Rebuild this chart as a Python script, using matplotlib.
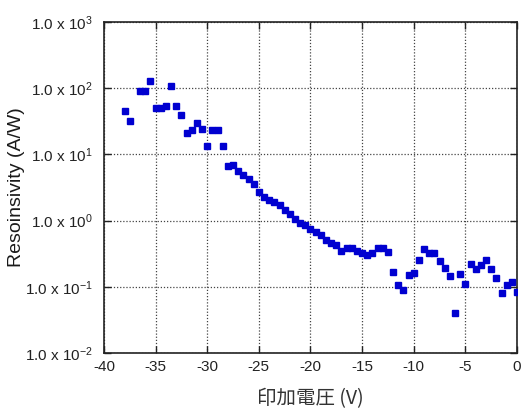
import numpy as np
import matplotlib
matplotlib.use("Agg")
import matplotlib.pyplot as plt

plt.rcParams['font.family'] = ['Liberation Sans', 'DejaVu Sans']
plt.rcParams['mathtext.fontset'] = 'custom'
plt.rcParams['mathtext.rm'] = 'Liberation Sans'
plt.rcParams['mathtext.it'] = 'Liberation Sans'

# applied voltage (V) and responsivity (A/W)
voltage = [-38.0, -37.5, -36.5, -36.0, -35.5, -35.0, -34.5, -34.0, -33.5, -33.0,
           -32.5, -32.0, -31.5, -31.0, -30.5, -30.0, -29.5, -29.0, -28.5, -28.0,
           -27.5, -27.0, -26.5, -26.0, -25.5, -25.0, -24.5, -24.0, -23.5, -23.0,
           -22.5, -22.0, -21.5, -21.0, -20.5, -20.0, -19.5, -19.0, -18.5, -18.0,
           -17.5, -17.0, -16.5, -16.0, -15.5, -15.0, -14.5, -14.0, -13.5, -13.0,
           -12.5, -12.0, -11.5, -11.0, -10.5, -10.0, -9.5, -9.0, -8.5, -8.0,
           -7.5, -7.0, -6.5, -6.0, -5.5, -5.0, -4.5, -4.0, -3.5, -3.0,
           -2.5, -2.0, -1.5, -1.0, -0.5, 0.0]
responsivity = [45.7, 31.9, 89.8, 89.8, 128.5, 49.7, 49.7, 53.8, 107.0, 53.8,
                39.4, 21.3, 23.4, 29.5, 24.2, 13.3, 23.1, 23.1, 13.3, 6.68,
                6.99, 5.71, 4.89, 4.30, 3.53, 2.69, 2.27, 2.03, 1.93, 1.73,
                1.47, 1.25, 1.06, 0.914, 0.873, 0.746, 0.665, 0.616, 0.518, 0.463,
                0.425, 0.351, 0.392, 0.379, 0.347, 0.324, 0.302, 0.327, 0.382, 0.382,
                0.336, 0.170, 0.106, 0.0901, 0.151, 0.163, 0.251, 0.377, 0.321, 0.321,
                0.244, 0.190, 0.146, 0.0402, 0.157, 0.110, 0.219, 0.184, 0.216, 0.254,
                0.184, 0.134, 0.0798, 0.105, 0.118, 0.0834]

xticks = [-40, -35, -30, -25, -20, -15, -10, -5, 0]
yticks = [1e-2, 1e-1, 1e0, 1e1, 1e2, 1e3]
ytick_labels = [r'1.0 x 10$^{-2}$', r'1.0 x 10$^{-1}$', r'1.0 x 10$^{0}$',
                r'1.0 x 10$^{1}$', r'1.0 x 10$^{2}$', r'1.0 x 10$^{3}$']

fig = plt.figure(figsize=(5.21, 4.12), dpi=100)
ax = fig.add_axes([0.1996, 0.1432, 0.7927, 0.8034])

ax.plot(voltage, responsivity, linestyle='', marker='s', markersize=5,
        color='#0000d0', markeredgecolor='#0000d0', zorder=3)

ax.set_yscale('log')
ax.set_xlim(-40, 0)
ax.set_ylim(1e-2, 1e3)
ax.set_xticks(xticks)
ax.set_xticklabels([str(t) for t in xticks])
ax.set_yticks(yticks)
ax.set_yticklabels(ytick_labels)
ax.minorticks_off()

ax.tick_params(which='major', direction='in', length=5, width=1,
               top=True, right=True, labelsize=11, colors='#222222')
ax.tick_params(axis='y', pad=8)
ax.tick_params(axis='x', pad=5)

ax.grid(True, which='major', linestyle=(0, (1, 1.5)), color='#444444', linewidth=0.9)
for s in ax.spines.values():
    s.set_linewidth(1.2)
    s.set_color('#222222')

ax.set_ylabel('Resoinsivity (A/W)', fontsize=14, color='#1a1a1a')
ax.yaxis.set_label_coords(-0.192, 0.5)
ax.set_xlabel('印加電圧 (V)', fontsize=14, labelpad=10, color='#333333',
              family=['Noto Sans CJK JP', 'DejaVu Sans'])

fig.savefig('out.png', dpi=100)
